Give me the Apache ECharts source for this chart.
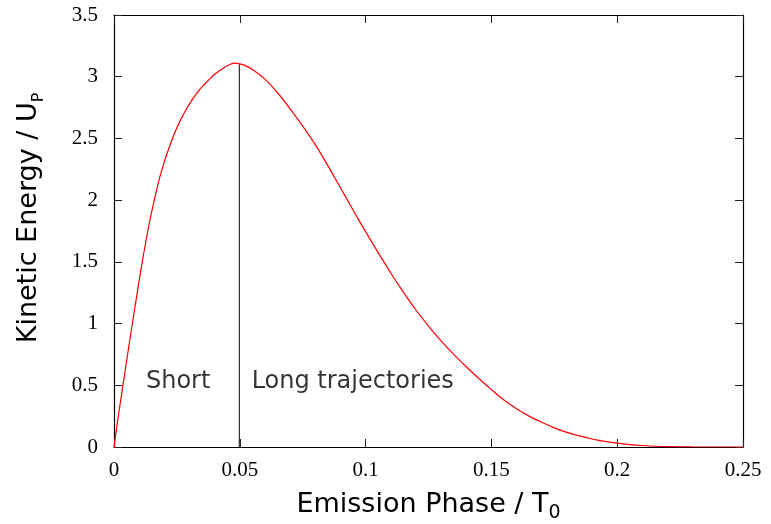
<!DOCTYPE html>
<html>
<head>
<meta charset="utf-8">
<script src="https://cdn.jsdelivr.net/npm/echarts@6/dist/echarts.min.js"></script>
<style>
  html, body { margin: 0; padding: 0; background: #fff; }
  #chart { width: 771px; height: 524px; }
</style>
</head>
<body>
<div id="chart"></div>
<script>
// emission phase (units of T0) and return kinetic energy (units of Up)
const phase = [0, 0.002, 0.004, 0.006, 0.008, 0.010, 0.012, 0.014, 0.016, 0.018, 0.020, 0.022,
  0.024, 0.026, 0.028, 0.030, 0.032, 0.034, 0.036, 0.038, 0.040, 0.042, 0.044, 0.046, 0.048,
  0.050, 0.052, 0.055, 0.060, 0.065, 0.070, 0.075, 0.080, 0.085, 0.090, 0.095, 0.100, 0.105, 0.110,
  0.115, 0.120, 0.125, 0.130, 0.135, 0.140, 0.145, 0.150, 0.155, 0.160, 0.165, 0.170, 0.175,
  0.180, 0.185, 0.190, 0.195, 0.200, 0.205, 0.210, 0.215, 0.220, 0.230, 0.240, 0.250]
const energy = [0, 0.29, 0.56, 0.83, 1.09, 1.35, 1.59, 1.81, 2.00, 2.17, 2.31, 2.43,
  2.54, 2.63, 2.71, 2.78, 2.84, 2.895, 2.94, 2.98, 3.02, 3.05, 3.077, 3.099, 3.11,
  3.104, 3.092, 3.058, 2.98, 2.87, 2.74, 2.60, 2.45, 2.28, 2.10, 1.92, 1.745, 1.575, 1.41,
  1.255, 1.11, 0.98, 0.86, 0.75, 0.65, 0.555, 0.465, 0.38, 0.31, 0.25, 0.2, 0.155,
  0.118, 0.09, 0.065, 0.045, 0.031, 0.02, 0.012, 0.006, 0.003, 0.0005, 0, 0]

// divider between short and long trajectories
const dividerX = [0.0498, 0.0498]
const dividerY = [0, 3.1]

// annotations
const noteText = ["Short", "Long trajectories"]
const noteX = [0.0127, 0.0547]
const noteY = [0.53, 0.53]

const chart = echarts.init(document.getElementById("chart"))

const tickFont = { fontFamily: "Liberation Serif", fontSize: 21, color: "#000" }
const frameAxis = {
  type: "value",
  axisLine: { show: true, onZero: false, lineStyle: { color: "#000", width: 1.2 } },
  axisTick: { show: true, inside: true, length: 8, lineStyle: { color: "#222", width: 1 } },
  splitLine: { show: false },
}

const option = {
  animation: false,
  backgroundColor: "#fff",
  grid: { left: 114, right: 28, top: 15, bottom: 77, containLabel: false, outerBoundsMode: "none" },
  xAxis: [
    {
      ...frameAxis,
      position: "bottom",
      min: 0,
      max: 0.25,
      interval: 0.05,
      axisLabel: { ...tickFont, margin: 13 },
      name: "{a|Emission Phase / T}{s|0}",
      nameLocation: "middle",
      nameGap: 40,
      nameTextStyle: {
        rich: {
          a: { fontFamily: "DejaVu Sans", fontSize: 27, color: "#000", lineHeight: 36 },
          s: { fontFamily: "DejaVu Sans", fontSize: 19, color: "#000", lineHeight: 16, verticalAlign: "bottom" },
        },
      },
    },
    {
      ...frameAxis,
      position: "top",
      min: 0,
      max: 0.25,
      interval: 0.05,
      axisLabel: { show: false },
    },
  ],
  yAxis: [
    {
      ...frameAxis,
      position: "left",
      min: 0,
      max: 3.5,
      interval: 0.5,
      axisLabel: { ...tickFont, margin: 16 },
      name: "{a|Kinetic Energy / U}{s|P}",
      nameLocation: "middle",
      nameGap: 67,
      nameTextStyle: {
        padding: [0, 0, 0, 26],
        rich: {
          a: { fontFamily: "DejaVu Sans", fontSize: 27, color: "#000", lineHeight: 36 },
          s: { fontFamily: "DejaVu Sans", fontSize: 16, color: "#000", lineHeight: 14, verticalAlign: "bottom" },
        },
      },
    },
    {
      ...frameAxis,
      position: "right",
      min: 0,
      max: 3.5,
      interval: 0.5,
      axisLabel: { show: false },
    },
  ],
  series: [
    {
      type: "line",
      data: phase.map((x, i) => [x, energy[i]]),
      smooth: 0.3,
      showSymbol: false,
      lineStyle: { color: "#ff0000", width: 1.2 },
      z: 3,
    },
    {
      type: "line",
      data: dividerX.map((x, i) => [x, dividerY[i]]),
      showSymbol: false,
      lineStyle: { color: "#000", width: 1 },
      z: 2,
    },
    {
      type: "scatter",
      symbolSize: 0,
      data: noteX.map((x, i) => ({ value: [x, noteY[i]], name: noteText[i] })),
      label: {
        show: true,
        position: "right",
        distance: 0,
        formatter: (p) => p.name,
        fontFamily: "DejaVu Sans",
        fontSize: 24,
        color: "#000",
      },
    },
  ],
}

chart.setOption(option)
window.addEventListener("resize", () => chart.resize())
</script>
</body>
</html>
